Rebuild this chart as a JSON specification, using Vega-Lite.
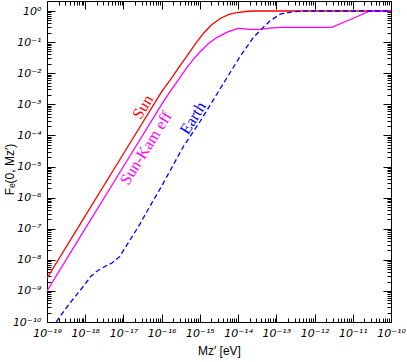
{
  "$schema": "https://vega.github.io/schema/vega-lite/v6.json",
  "width": 344,
  "height": 321,
  "autosize": {"type": "none"},
  "padding": {"left": 47, "top": 1, "right": 16, "bottom": 40},
  "background": "white",
  "config": {
    "view": {"stroke": "black", "strokeWidth": 1},
    "axis": {
      "domain": false, "grid": false, "tickColor": "black", "tickWidth": 1,
      "labelFont": "DejaVu Sans", "labelFontStyle": "italic", "labelFontSize": 11, "labelColor": "black",
      "labelOverlap": false, "labelFlush": false, "labelBound": false,
      "titleFont": "Liberation Sans", "titleFontWeight": "normal", "titleFontSize": 12, "titleColor": "black"
    }
  },
  "datasets": {
    "curves": [
      {"series": "Sun", "M": 1e-19, "F": 2.57e-9},
      {"series": "Sun", "M": 1e-18, "F": 2.57e-7},
      {"series": "Sun", "M": 1e-17, "F": 2.57e-5},
      {"series": "Sun", "M": 1e-16, "F": 2.55e-3},
      {"series": "Sun", "M": 1.66e-16, "F": 6.0e-3},
      {"series": "Sun", "M": 3.16e-16, "F": 1.9e-2},
      {"series": "Sun", "M": 4.47e-16, "F": 3.4e-2},
      {"series": "Sun", "M": 7.4e-16, "F": 8.3e-2},
      {"series": "Sun", "M": 1.23e-15, "F": 0.19},
      {"series": "Sun", "M": 2.0e-15, "F": 0.355},
      {"series": "Sun", "M": 3.4e-15, "F": 0.575},
      {"series": "Sun", "M": 5.6e-15, "F": 0.76},
      {"series": "Sun", "M": 9.1e-15, "F": 0.89},
      {"series": "Sun", "M": 1.58e-14, "F": 0.966},
      {"series": "Sun", "M": 2.5e-14, "F": 1.0},
      {"series": "Sun", "M": 1e-10, "F": 1.0},
      {"series": "Sun-Kam eff", "M": 1e-19, "F": 1e-9},
      {"series": "Sun-Kam eff", "M": 1e-18, "F": 1e-7},
      {"series": "Sun-Kam eff", "M": 1e-17, "F": 1e-5},
      {"series": "Sun-Kam eff", "M": 1e-16, "F": 1e-3},
      {"series": "Sun-Kam eff", "M": 1.66e-16, "F": 2.57e-3},
      {"series": "Sun-Kam eff", "M": 2.8e-16, "F": 6.3e-3},
      {"series": "Sun-Kam eff", "M": 4.47e-16, "F": 1.45e-2},
      {"series": "Sun-Kam eff", "M": 6.8e-16, "F": 2.85e-2},
      {"series": "Sun-Kam eff", "M": 1e-15, "F": 4.8e-2},
      {"series": "Sun-Kam eff", "M": 1.66e-15, "F": 8.9e-2},
      {"series": "Sun-Kam eff", "M": 2.75e-15, "F": 0.14},
      {"series": "Sun-Kam eff", "M": 5.2e-15, "F": 0.21},
      {"series": "Sun-Kam eff", "M": 1e-14, "F": 0.275},
      {"series": "Sun-Kam eff", "M": 2.04e-14, "F": 0.257},
      {"series": "Sun-Kam eff", "M": 3.7e-14, "F": 0.257},
      {"series": "Sun-Kam eff", "M": 6.8e-14, "F": 0.28},
      {"series": "Sun-Kam eff", "M": 1.26e-13, "F": 0.30},
      {"series": "Sun-Kam eff", "M": 2.8e-12, "F": 0.30},
      {"series": "Sun-Kam eff", "M": 1e-11, "F": 0.575},
      {"series": "Sun-Kam eff", "M": 2.8e-11, "F": 1.0},
      {"series": "Sun-Kam eff", "M": 1e-10, "F": 1.0},
      {"series": "Earth", "M": 1.74e-19, "F": 1e-10},
      {"series": "Earth", "M": 3.16e-19, "F": 2.8e-10},
      {"series": "Earth", "M": 4.9e-19, "F": 5.6e-10},
      {"series": "Earth", "M": 1e-18, "F": 1.66e-9},
      {"series": "Earth", "M": 1.35e-18, "F": 2.8e-9},
      {"series": "Earth", "M": 2.0e-18, "F": 4.3e-9},
      {"series": "Earth", "M": 3.16e-18, "F": 6.0e-9},
      {"series": "Earth", "M": 5.0e-18, "F": 7.9e-9},
      {"series": "Earth", "M": 7.9e-18, "F": 1.26e-8},
      {"series": "Earth", "M": 1.48e-17, "F": 4.3e-8},
      {"series": "Earth", "M": 2.7e-17, "F": 1.41e-7},
      {"series": "Earth", "M": 4.9e-17, "F": 5.2e-7},
      {"series": "Earth", "M": 9.1e-17, "F": 1.9e-6},
      {"series": "Earth", "M": 3.7e-16, "F": 4.4e-5},
      {"series": "Earth", "M": 1e-15, "F": 2.75e-4},
      {"series": "Earth", "M": 2.24e-15, "F": 1.38e-3},
      {"series": "Earth", "M": 5.0e-15, "F": 6.9e-3},
      {"series": "Earth", "M": 1.12e-14, "F": 3.4e-2},
      {"series": "Earth", "M": 2.5e-14, "F": 0.14},
      {"series": "Earth", "M": 4.6e-14, "F": 0.30},
      {"series": "Earth", "M": 6.8e-14, "F": 0.48},
      {"series": "Earth", "M": 1.26e-13, "F": 0.79},
      {"series": "Earth", "M": 2.75e-13, "F": 0.955},
      {"series": "Earth", "M": 6.3e-13, "F": 1.0},
      {"series": "Earth", "M": 1e-10, "F": 1.0}
    ],
    "labels": [
      {"series": "Sun", "M": 3.24e-17, "F": 8.2e-4},
      {"series": "Sun-Kam eff", "M": 3.9e-17, "F": 3.9e-5},
      {"series": "Earth", "M": 6.6e-16, "F": 3.6e-4}
    ]
  },
  "layer": [
    {
      "data": {"name": "curves"},
      "transform": [{"filter": "datum.series == 'Sun'"}],
      "mark": {"type": "line", "strokeWidth": 1.3, "clip": true},
      "encoding": {
        "x": {"field": "M", "type": "quantitative",
          "scale": {"type": "log", "domain": [1e-19, 1e-10], "nice": false},
          "axis": {"orient": "bottom", "title": "Mᴢ′ [eV]", "labelPadding": 13, "titlePadding": 3,
            "values": [1e-19,2e-19,3e-19,4e-19,5e-19,6e-19,7e-19,8e-19,9e-19,1e-18,2e-18,3e-18,4e-18,5e-18,6e-18,7e-18,8e-18,9e-18,1e-17,2e-17,3e-17,4e-17,5e-17,6e-17,7e-17,8e-17,9e-17,1e-16,2e-16,3e-16,4e-16,5e-16,6e-16,7e-16,8e-16,9e-16,1e-15,2e-15,3e-15,4e-15,5e-15,6e-15,7e-15,8e-15,9e-15,1e-14,2e-14,3e-14,4e-14,5e-14,6e-14,7e-14,8e-14,9e-14,1e-13,2e-13,3e-13,4e-13,5e-13,6e-13,7e-13,8e-13,9e-13,1e-12,2e-12,3e-12,4e-12,5e-12,6e-12,7e-12,8e-12,9e-12,1e-11,2e-11,3e-11,4e-11,5e-11,6e-11,7e-11,8e-11,9e-11,1e-10],
            "tickSize": {"condition": {"test": "abs(log(datum.value)/LN10 - round(log(datum.value)/LN10)) < 0.01", "value": -8}, "value": -4},
            "labelExpr": "abs(log(datum.value)/LN10 - round(log(datum.value)/LN10)) < 0.01 ? '10' + replace(replace(replace(replace(replace(replace(replace(replace(replace(replace(replace('' + round(log(datum.value)/LN10), regexp('-','g'), '⁻'), regexp('0','g'), '⁰'), regexp('1','g'), '¹'), regexp('2','g'), '²'), regexp('3','g'), '³'), regexp('4','g'), '⁴'), regexp('5','g'), '⁵'), regexp('6','g'), '⁶'), regexp('7','g'), '⁷'), regexp('8','g'), '⁸'), regexp('9','g'), '⁹') : ''"
          }},
        "y": {"field": "F", "type": "quantitative",
          "scale": {"type": "log", "domain": [1e-10, 2.1], "nice": false},
          "axis": {"orient": "left", "title": "Fₑ(0, Mᴢ′)", "labelPadding": 14, "titleX": -38, "titleY": 168, "titleBaseline": "middle", "titleAngle": -90,
            "values": [1e-10,2e-10,3e-10,4e-10,5e-10,6e-10,7e-10,8e-10,9e-10,1e-9,2e-9,3e-9,4e-9,5e-9,6e-9,7e-9,8e-9,9e-9,1e-8,2e-8,3e-8,4e-8,5e-8,6e-8,7e-8,8e-8,9e-8,1e-7,2e-7,3e-7,4e-7,5e-7,6e-7,7e-7,8e-7,9e-7,1e-6,2e-6,3e-6,4e-6,5e-6,6e-6,7e-6,8e-6,9e-6,1e-5,2e-5,3e-5,4e-5,5e-5,6e-5,7e-5,8e-5,9e-5,1e-4,2e-4,3e-4,4e-4,5e-4,6e-4,7e-4,8e-4,9e-4,1e-3,2e-3,3e-3,4e-3,5e-3,6e-3,7e-3,8e-3,9e-3,1e-2,2e-2,3e-2,4e-2,5e-2,6e-2,7e-2,8e-2,9e-2,0.1,0.2,0.3,0.4,0.5,0.6,0.7,0.8,0.9,1],
            "tickSize": {"condition": {"test": "abs(log(datum.value)/LN10 - round(log(datum.value)/LN10)) < 0.01", "value": -8}, "value": -4},
            "labelExpr": "abs(log(datum.value)/LN10 - round(log(datum.value)/LN10)) < 0.01 ? '10' + replace(replace(replace(replace(replace(replace(replace(replace(replace(replace(replace('' + round(log(datum.value)/LN10), regexp('-','g'), '⁻'), regexp('0','g'), '⁰'), regexp('1','g'), '¹'), regexp('2','g'), '²'), regexp('3','g'), '³'), regexp('4','g'), '⁴'), regexp('5','g'), '⁵'), regexp('6','g'), '⁶'), regexp('7','g'), '⁷'), regexp('8','g'), '⁸'), regexp('9','g'), '⁹') : ''"
          }},
        "color": {"field": "series", "type": "nominal", "legend": null,
          "scale": {"domain": ["Sun", "Sun-Kam eff", "Earth"], "range": ["#ff0000", "#ff00ff", "#0000ff"]}}
      }
    },
    {
      "data": {"name": "curves"},
      "transform": [{"filter": "datum.series == 'Sun-Kam eff'"}],
      "mark": {"type": "line", "strokeWidth": 1.3, "clip": true},
      "encoding": {
        "x": {"field": "M", "type": "quantitative",
          "scale": {"type": "log", "domain": [1e-19, 1e-10], "nice": false},
          "axis": {"orient": "top", "title": null, "labels": false,
            "values": [1e-19,2e-19,3e-19,4e-19,5e-19,6e-19,7e-19,8e-19,9e-19,1e-18,2e-18,3e-18,4e-18,5e-18,6e-18,7e-18,8e-18,9e-18,1e-17,2e-17,3e-17,4e-17,5e-17,6e-17,7e-17,8e-17,9e-17,1e-16,2e-16,3e-16,4e-16,5e-16,6e-16,7e-16,8e-16,9e-16,1e-15,2e-15,3e-15,4e-15,5e-15,6e-15,7e-15,8e-15,9e-15,1e-14,2e-14,3e-14,4e-14,5e-14,6e-14,7e-14,8e-14,9e-14,1e-13,2e-13,3e-13,4e-13,5e-13,6e-13,7e-13,8e-13,9e-13,1e-12,2e-12,3e-12,4e-12,5e-12,6e-12,7e-12,8e-12,9e-12,1e-11,2e-11,3e-11,4e-11,5e-11,6e-11,7e-11,8e-11,9e-11,1e-10],
            "tickSize": {"condition": {"test": "abs(log(datum.value)/LN10 - round(log(datum.value)/LN10)) < 0.01", "value": -8}, "value": -4}
          }},
        "y": {"field": "F", "type": "quantitative",
          "scale": {"type": "log", "domain": [1e-10, 2.1], "nice": false},
          "axis": {"orient": "right", "title": null, "labels": false,
            "values": [1e-10,2e-10,3e-10,4e-10,5e-10,6e-10,7e-10,8e-10,9e-10,1e-9,2e-9,3e-9,4e-9,5e-9,6e-9,7e-9,8e-9,9e-9,1e-8,2e-8,3e-8,4e-8,5e-8,6e-8,7e-8,8e-8,9e-8,1e-7,2e-7,3e-7,4e-7,5e-7,6e-7,7e-7,8e-7,9e-7,1e-6,2e-6,3e-6,4e-6,5e-6,6e-6,7e-6,8e-6,9e-6,1e-5,2e-5,3e-5,4e-5,5e-5,6e-5,7e-5,8e-5,9e-5,1e-4,2e-4,3e-4,4e-4,5e-4,6e-4,7e-4,8e-4,9e-4,1e-3,2e-3,3e-3,4e-3,5e-3,6e-3,7e-3,8e-3,9e-3,1e-2,2e-2,3e-2,4e-2,5e-2,6e-2,7e-2,8e-2,9e-2,0.1,0.2,0.3,0.4,0.5,0.6,0.7,0.8,0.9,1],
            "tickSize": {"condition": {"test": "abs(log(datum.value)/LN10 - round(log(datum.value)/LN10)) < 0.01", "value": -8}, "value": -4}
          }},
        "color": {"field": "series", "type": "nominal", "legend": null}
      }
    },
    {
      "data": {"name": "curves"},
      "transform": [{"filter": "datum.series == 'Earth'"}],
      "mark": {"type": "line", "strokeWidth": 1.3, "strokeDash": [5, 3], "clip": true},
      "encoding": {
        "x": {"field": "M", "type": "quantitative", "scale": {"type": "log", "domain": [1e-19, 1e-10], "nice": false}, "axis": null},
        "y": {"field": "F", "type": "quantitative", "scale": {"type": "log", "domain": [1e-10, 2.1], "nice": false}, "axis": null},
        "color": {"field": "series", "type": "nominal", "legend": null}
      }
    },
    {
      "data": {"name": "labels"},
      "mark": {"type": "text", "font": "Liberation Serif", "fontSize": 16, "angle": -58, "align": "center", "baseline": "middle"},
      "encoding": {
        "x": {"field": "M", "type": "quantitative", "scale": {"type": "log", "domain": [1e-19, 1e-10], "nice": false}, "axis": null},
        "y": {"field": "F", "type": "quantitative", "scale": {"type": "log", "domain": [1e-10, 2.1], "nice": false}, "axis": null},
        "text": {"field": "series", "type": "nominal"},
        "color": {"field": "series", "type": "nominal", "legend": null}
      }
    }
  ],
  "resolve": {"axis": {"x": "independent", "y": "independent"}}
}
